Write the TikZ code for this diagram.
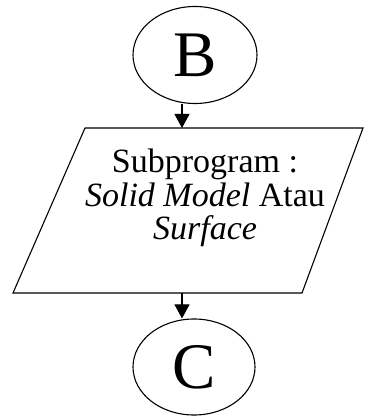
\documentclass[tikz,border=0pt]{standalone}
\usepackage{fontspec}
\setmainfont{Liberation Serif}
\usetikzlibrary{shapes.geometric,arrows.meta}
\begin{document}
\begin{tikzpicture}[x=1pt,y=1pt,
  conn/.style={draw,ellipse,line width=1.1pt,inner sep=0pt,font=\fontsize{65}{70}\selectfont},
  arr/.style={line width=1.1pt,-{Triangle[length=14pt,width=15pt]}},
  shapeline/.style={line width=1.1pt,line join=miter}]
\useasboundingbox (0,0) rectangle (366,417);
\node[conn,minimum width=124pt,minimum height=97pt] (B) at (195,362) {B};
\node[conn,minimum width=122pt,minimum height=96pt] (C) at (194,50) {C};
\coordinate (tl) at (85,289);
\coordinate (tr) at (363,289);
\coordinate (br) at (302,124);
\coordinate (bl) at (13,124);
\draw[shapeline] (tl) -- (tr) -- (br) -- (bl) -- cycle;
\node[align=center,inner sep=0pt,font=\fontsize{34}{33.5}\selectfont] (P) at (205,219)
  {Subprogram :\\ \textit{Solid Model} Atau\\ \textit{Surface}};
\coordinate (pt) at (182,289);
\coordinate (pb) at (182,124);
\draw[arr] (B.south -| pt) -- (pt);
\draw[arr] (pb) -- (C.north -| pb);
\end{tikzpicture}
\end{document}
